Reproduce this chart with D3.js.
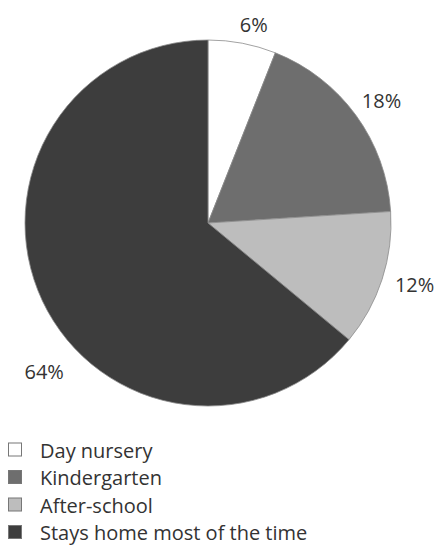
<!DOCTYPE html>
<html>
<head>
<meta charset="utf-8">
<script src="https://cdn.jsdelivr.net/npm/d3@7"></script>
<style>
body { margin: 0; background: #fff; }
text { font-family: "Open Sans", sans-serif; fill: #333; }
</style>
</head>
<body>
<div id="chart"></div>
<script>
var categories = ["Day nursery", "Kindergarten", "After-school", "Stays home most of the time"];
var values = [6, 18, 12, 64];
var labels = ["6%", "18%", "12%", "64%"];
var colors = ["#ffffff", "#6e6e6e", "#bdbdbd", "#3d3d3d"];

var width = 435,
height = 546
var cx = 208, cy = 223, radius = 183;

var svg = d3.select("#chart").append("svg")
.attr("width", width)
.attr("height", height)

var pie = d3.pie().sort(null).value(function(d) { return d; });
var arcs = pie(values);

var arc = d3.arc().innerRadius(0).outerRadius(radius);
var labelArc = d3.arc().innerRadius(212).outerRadius(212);

var g = svg.append("g").attr("transform", "translate(" + cx + "," + cy + ")");

g.selectAll("path")
.data(arcs)
.enter()
.append("path")
.attr("d", arc)
.attr("fill", function(d, i) { return colors[i]; })
.attr("stroke", "#8a8a8a")
.attr("stroke-width", 0.8);

// nudges so labels sit where the original put them
var nudge = [[6, 10], [2, 2], [5, -4], [28, 58]];

g.selectAll("text.lbl")
.data(arcs)
.enter()
.append("text")
.attr("class", "lbl")
.attr("x", function(d, i) { return labelArc.centroid(d)[0] + nudge[i][0]; })
.attr("y", function(d, i) { return labelArc.centroid(d)[1] + nudge[i][1]; })
.attr("text-anchor", "middle")
.attr("dominant-baseline", "central")
.style("font-size", "20px")
.text(function(d, i) { return labels[i]; });

//legend
var legend = svg.append("g").attr("transform", "translate(8,450)");
var row = legend.selectAll("g")
.data(categories)
.enter()
.append("g")
.attr("transform", function(d, i) { return "translate(0," + (i * 27.5) + ")"; });

row.append("rect")
.attr("x", 0.5)
.attr("y", -7)
.attr("width", 13)
.attr("height", 13)
.attr("fill", function(d, i) { return colors[i]; })
.attr("stroke", "#777")
.attr("stroke-width", 1);

row.append("text")
.attr("x", 32)
.attr("y", 0)
.attr("dominant-baseline", "central")
.style("font-size", "20px")
.text(function(d) { return d; });
</script>
</body>
</html>
